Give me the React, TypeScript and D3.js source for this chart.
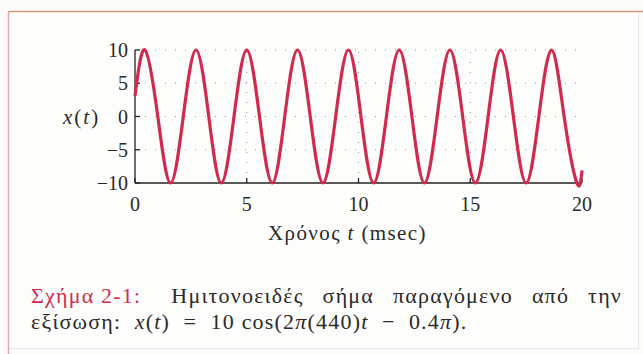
import React, { useEffect, useRef } from "react";
import * as d3 from "d3";

const W = 643;
const H = 354;

// x(t) samples: start, peaks, zero crossings and troughs (t in msec)
const sampleTimes = [
  0, 0.45, 1.02, 1.59, 2.16, 2.73, 3.3, 3.86, 4.43, 5.0, 5.57, 6.14, 6.7, 7.27,
  7.84, 8.41, 8.98, 9.55, 10.11, 10.68, 11.25, 11.82, 12.39, 12.95, 13.52,
  14.09, 14.66, 15.23, 15.8, 16.36, 16.93, 17.5, 18.07, 18.64, 19.2, 19.77, 20,
];
const sampleValues = [
  3.1,
  10, 0, -10, 0,
  10, 0, -10, 0,
  10, 0, -10, 0,
  10, 0, -10, 0,
  10, 0, -10, 0,
  10, 0, -10, 0,
  10, 0, -10, 0,
  10, 0, -10, 0,
  10, 0, -10,
  -8.1,
];

const xTicks = [0, 5, 10, 15, 20];
const yTicks = [-10, -5, 0, 5, 10];
const xGrid = [5, 10, 15];
const yGrid = [-5, 0, 5, 10];

const captionLabel = "Σχήμα 2-1:";
const captionWords = ["Ημιτονοειδές", "σήμα", "παραγόμενο", "από", "την"];

const FONT = "Liberation Serif, Times New Roman, DejaVu Serif, serif";
const INK = "#2a2a2a";
const CRIMSON = "#d22a4e";

function fmt(v: number) {
  return v < 0 ? "\u2212" + Math.abs(v) : String(v);
}

function JustifiedLine({
  y,
  x0,
  x1,
  parts,
  leadGap,
}: {
  y: number;
  x0: number;
  x1: number;
  parts: { text: string; color: string }[];
  leadGap: number;
}) {
  const gRef = useRef<SVGGElement>(null);
  useEffect(() => {
    const nodes = d3.select(gRef.current).selectAll<SVGTextElement, unknown>("text").nodes();
    const widths = nodes.map((n) => n.getBBox().width);
    const rest = nodes.length - 2;
    const gap = (x1 - x0 - leadGap - d3.sum(widths)) / rest;
    let x = x0;
    nodes.forEach((n, i) => {
      n.setAttribute("x", String(x));
      x += widths[i] + (i === 0 ? leadGap : gap);
    });
  }, [x0, x1, leadGap]);
  return (
    <g ref={gRef}>
      {parts.map((p, i) => (
        <text key={i} x={x0} y={y} fill={p.color}>
          {p.text}
        </text>
      ))}
    </g>
  );
}

export default function App() {
  const x = d3.scaleLinear().domain([0, 20]).range([135, 582]);
  const y = d3.scaleLinear().domain([-10, 10]).range([183, 50]);

  const points = sampleTimes.map((t, i) => [t, sampleValues[i]] as [number, number]);
  const line = d3
    .line<[number, number]>()
    .x((d) => x(d[0]))
    .y((d) => y(d[1]))
    .curve(d3.curveNatural);

  const [x0, x1] = x.range();
  const [yb, yt] = y.range();

  return (
    <svg
      width={W}
      height={H}
      style={{ position: "absolute", left: 0, top: 0, background: "#fbfbfa", fontFamily: FONT, fontSize: 20 }}
    >
      {/* figure box */}
      <rect x={8.5} y={11.5} width={630} height={337} fill="#fdfdfc" stroke="#e6e6e6" />
      <line x1={8} x2={643} y1={11.5} y2={11.5} stroke="#cf9a7e" strokeWidth={1.5} />
      <line x1={8.5} x2={8.5} y1={11} y2={354} stroke="#e2a6c6" strokeWidth={1.5} />

      {/* dotted grid */}
      <g stroke="#9a9a9a" strokeWidth={1.1} strokeDasharray="1 9">
        {yGrid.map((v) => (
          <line key={"gy" + v} x1={x0} x2={x1} y1={y(v)} y2={y(v)} />
        ))}
        {xGrid.map((v) => (
          <line key={"gx" + v} x1={x(v)} x2={x(v)} y1={yb} y2={yt} />
        ))}
      </g>

      {/* axes */}
      <g stroke="#222" strokeWidth={1.3}>
        <line x1={x0} x2={x0} y1={yb} y2={yt} />
        <line x1={x0} x2={x1} y1={yb} y2={yb} />
        {yTicks.map((v) => (
          <line key={"ty" + v} x1={x0} x2={x0 + 5} y1={y(v)} y2={y(v)} />
        ))}
        {xTicks.map((v) => (
          <line key={"tx" + v} x1={x(v)} x2={x(v)} y1={yb} y2={yb - 5} />
        ))}
      </g>

      {/* signal */}
      <path d={line(points) ?? ""} fill="none" stroke={CRIMSON} strokeWidth={3.2} strokeLinejoin="round" />

      {/* tick labels */}
      <g fill={INK}>
        {yTicks.map((v) => (
          <text key={"ly" + v} x={128} y={y(v)} textAnchor="end" dominantBaseline="central">
            {fmt(v)}
          </text>
        ))}
        {xTicks.map((v) => (
          <text key={"lx" + v} x={x(v)} y={211} textAnchor="middle">
            {fmt(v)}
          </text>
        ))}
      </g>

      {/* axis titles */}
      <text x={63} y={y(0)} dominantBaseline="central" fill={INK} style={{ fontSize: 21, letterSpacing: 2 }}>
        <tspan fontStyle="italic">x</tspan>(<tspan fontStyle="italic">t</tspan>)
      </text>
      <text x={268} y={240} fill={INK} style={{ fontSize: 21, letterSpacing: 1.4 }}>
        Χρόνος <tspan fontStyle="italic">t</tspan> (msec)
      </text>

      {/* caption */}
      <g style={{ fontSize: 22, letterSpacing: 1.2 }}>
        <JustifiedLine
          y={303}
          x0={31}
          x1={622}
          leadGap={30}
          parts={[
            { text: captionLabel, color: CRIMSON },
            ...captionWords.map((w) => ({ text: w, color: INK })),
          ]}
        />
        <text x={31} y={329} fill={INK} style={{ whiteSpace: "pre" }}>
          {"εξίσωση:  "}
          <tspan fontStyle="italic">x</tspan>(<tspan fontStyle="italic">t</tspan>){"  =  10 cos(2"}
          <tspan fontStyle="italic">π</tspan>(440)<tspan fontStyle="italic">t</tspan>{"  −  0.4"}
          <tspan fontStyle="italic">π</tspan>).
        </text>
      </g>
    </svg>
  );
}
